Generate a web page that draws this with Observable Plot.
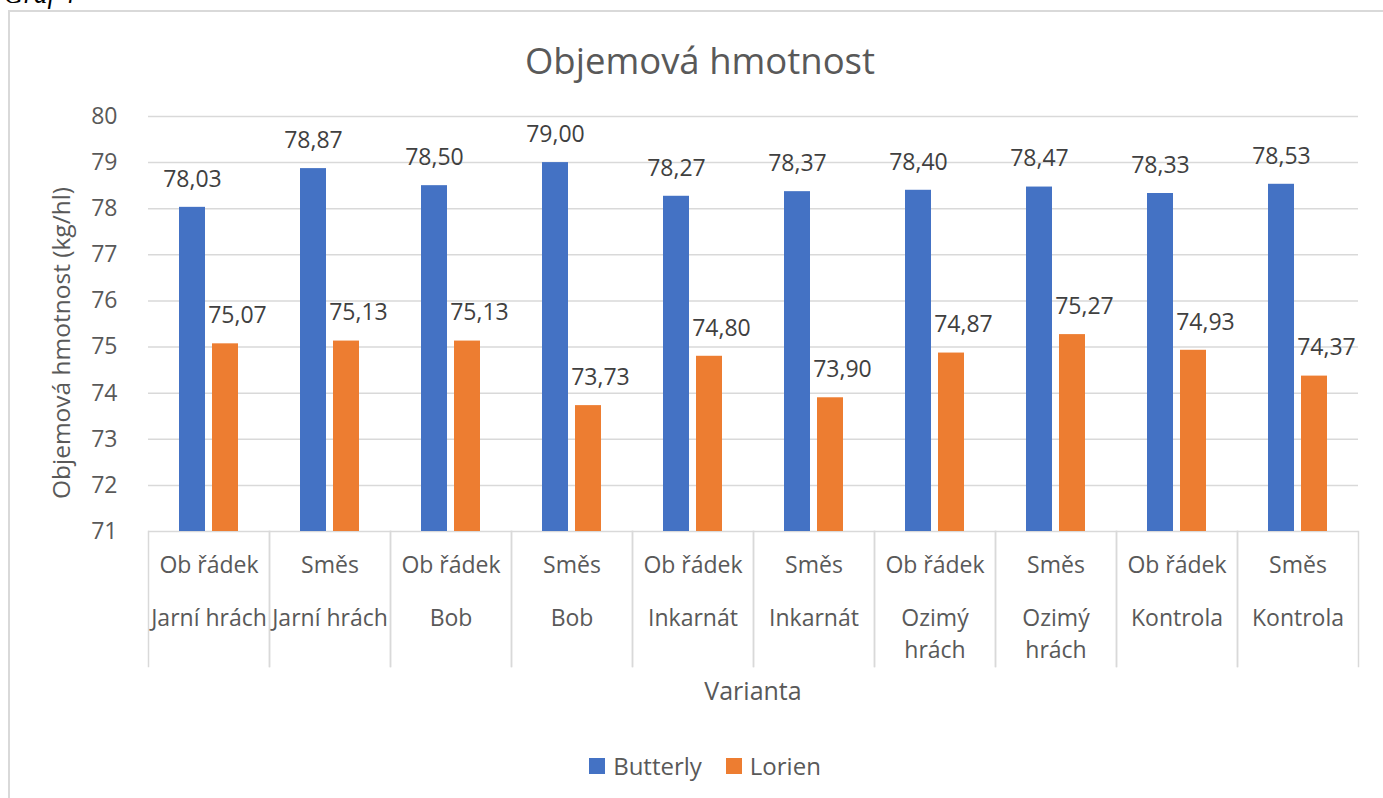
<!DOCTYPE html>
<html>
<head>
<meta charset="utf-8">
<script src="https://cdn.jsdelivr.net/npm/d3@7"></script>
<script src="https://cdn.jsdelivr.net/npm/@observablehq/plot@0.6"></script>
<style>
  html, body { margin: 0; padding: 0; background: #fff; }
  #page { position: relative; width: 1383px; height: 798px; overflow: hidden; font-family: "Open Sans", sans-serif; color: #595959; }
  #graf { position: absolute; left: 4px; top: -21px; font-family: "Liberation Serif", serif; font-style: italic; font-size: 27px; line-height: 30px; color: #000; }
  #border { position: absolute; left: 8px; top: 10px; width: 1420px; height: 820px; border: 2px solid #d9d9d9; box-sizing: border-box; }
  #title { position: absolute; left: 0; width: 1400px; top: 36px; text-align: center; font-size: 36.5px; line-height: 48px; }
  #chart { position: absolute; left: 0; top: 90px; }
  #ylabel { position: absolute; left: -189px; top: 326px; width: 500px; height: 34px; line-height: 34px; text-align: center; white-space: nowrap; font-size: 24.5px; transform: rotate(-90deg); transform-origin: 50% 50%; }
  #xlabel { position: absolute; left: 145px; width: 1216px; top: 673px; text-align: center; font-size: 25px; line-height: 34px; }
  #legend { position: absolute; left: 0; width: 1410px; top: 748px; text-align: center; font-size: 24px; line-height: 34px; }
  .item { display: inline-flex; align-items: center; margin: 0 12px; }
  .sw { display: inline-block; width: 16px; height: 16px; margin-right: 8px; }
</style>
</head>
<body>
<div id="page">
  <div id="graf">Graf 4</div>
  <div id="border"></div>
  <div id="title">Objemová hmotnost</div>
  <div id="chart"></div>
  <div id="ylabel">Objemová hmotnost (kg/hl)</div>
  <div id="xlabel">Varianta</div>
  <div id="legend"></div>
</div>
<script>
const variants = ["Ob řádek","Směs","Ob řádek","Směs","Ob řádek","Směs","Ob řádek","Směs","Ob řádek","Směs"];
const plants = ["Jarní hrách","Jarní hrách","Bob","Bob","Inkarnát","Inkarnát","Ozimý hrách","Ozimý hrách","Kontrola","Kontrola"];
const plantLabels = ["Jarní hrách","Jarní hrách","Bob","Bob","Inkarnát","Inkarnát","Ozimý\nhrách","Ozimý\nhrách","Kontrola","Kontrola"];
const series = ["Butterly","Lorien"];
const butterly = [78.03,78.87,78.50,79.00,78.27,78.37,78.40,78.47,78.33,78.53];
const lorien = [75.07,75.13,75.13,73.73,74.80,73.90,74.87,75.27,74.93,74.37];
const yTicks = [71,72,73,74,75,76,77,78,79,80];
const colors = ["#4472C4","#ED7D31"];

const keys = variants.map((v, i) => v + " " + plants[i]);
const cats = keys.map((k, i) => ({key: k, variant: variants[i], plant: plantLabels[i]}));
const rows = [];
keys.forEach((k, i) => {
  rows.push({key: k, series: series[0], value: butterly[i]});
  rows.push({key: k, series: series[1], value: lorien[i]});
});
const fmt = v => v.toFixed(2).replace(".", ",");

const chart = Plot.plot({
  width: 1383,
  height: 620,
  marginLeft: 145,
  marginRight: 22,
  marginTop: 26,
  marginBottom: 179,
  style: {fontFamily: "Open Sans, sans-serif", fontSize: "22px", color: "#595959", background: "transparent", overflow: "visible"},
  fx: {domain: keys, padding: 0, axis: null},
  x: {domain: series, paddingInner: 0.2, paddingOuter: 0.9, axis: null},
  y: {domain: [71, 80], axis: null},
  color: {domain: series, range: colors},
  marks: [
    Plot.ruleY(yTicks, {stroke: "#d9d9d9", strokeWidth: 1.5}),
    Plot.frame({anchor: "left", stroke: "#d9d9d9", strokeWidth: 1.5, insetTop: 415, insetBottom: -135}),
    Plot.frame({anchor: "right", stroke: "#d9d9d9", strokeWidth: 1.5, insetTop: 415, insetBottom: -135}),
    Plot.barY(rows, {fx: "key", x: "series", y1: 71, y2: "value", fill: "series"}),
    Plot.text(rows.filter(d => d.series === series[0]), {fx: "key", x: "series", y: "value", text: d => fmt(d.value), dy: -28, fontSize: 23, fill: "#404040"}),
    Plot.text(rows.filter(d => d.series === series[1]), {fx: "key", x: "series", y: "value", text: d => fmt(d.value), dy: -28, dx: 12, fontSize: 23, fill: "#404040"}),
    Plot.axisY(yTicks, {tickSize: 0, tickPadding: 31, fontSize: 23, label: null, tickFormat: d => String(d)}),
    Plot.text(cats, {fx: "key", text: "variant", frameAnchor: "bottom", dy: 41, fontSize: 23}),
    Plot.text(cats, {fx: "key", text: "plant", frameAnchor: "bottom", dy: 71, lineAnchor: "top", lineHeight: 1.42, fontSize: 23})
  ]
});
document.getElementById("chart").appendChild(chart);

const legend = document.getElementById("legend");
series.forEach((s, i) => {
  const item = document.createElement("span");
  item.className = "item";
  const sw = document.createElement("span");
  sw.className = "sw";
  sw.style.background = colors[i];
  item.appendChild(sw);
  item.appendChild(document.createTextNode(s));
  legend.appendChild(item);
});
</script>
</body>
</html>
